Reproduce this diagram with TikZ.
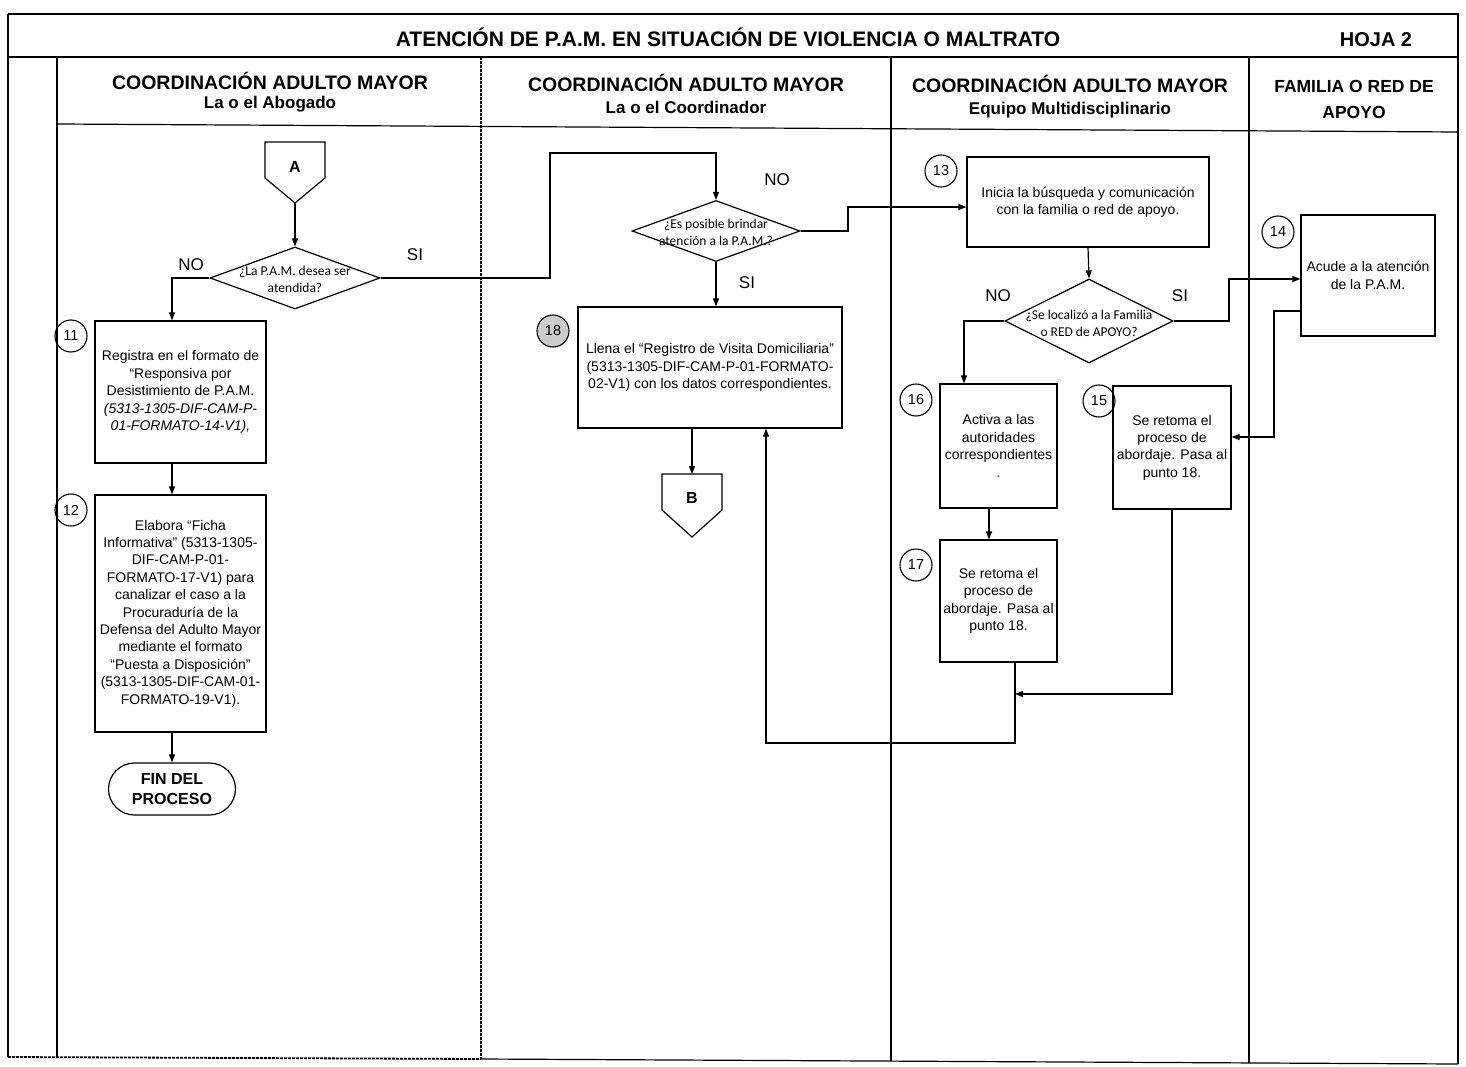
\documentclass[tikz,border=0pt]{standalone}
\usepackage{fontspec}
\setmainfont{Liberation Sans}
\newfontfamily\calib{Carlito}
\usetikzlibrary{arrows.meta,shapes.geometric,shapes.misc}
\tikzset{
  ln/.style={line width=1.2pt},
  arr/.style={ln,-{Triangle[length=8pt,width=6pt]}},
  box/.style={draw,ln,inner sep=0pt,align=center,font=\fontsize{14}{17.4}\selectfont},
  num/.style={draw,circle,line width=1.1pt,minimum size=32pt,inner sep=0pt,font=\fontsize{14.5}{14.5}\selectfont},
  dia/.style={draw,diamond,ln,inner sep=0pt},
  dtext/.style={align=center,font=\calib\fontsize{13.5}{17}\selectfont},
  lab/.style={font=\fontsize{17}{17}\selectfont},
  hdr/.style={font=\bfseries\fontsize{19.5}{19.5}\selectfont},
  hsub/.style={font=\bfseries\fontsize{17}{17}\selectfont},
  frame/.style={line width=1.2pt},
  dframe/.style={line width=1.8pt,dash pattern=on 3pt off 1pt},
  conn/.style={font=\bfseries\fontsize{16}{16}\selectfont},
}
\begin{document}
\begin{tikzpicture}[x=1pt,y=-1pt]
\useasboundingbox (0,0) rectangle (1466,1067);
% ---------- frame ----------
\draw[frame] (8,14) -- (1458,14) -- (1458,1064);
\draw[frame] (8,14) -- (8,1057);
\draw[frame] (8,57) -- (1458,57);
\draw[frame] (57,57) -- (57,1057);
\draw[frame] (57,124) -- (1458,132);
\draw[dframe] (481,57) -- (481,1059);
\draw[dframe] (8,1057) -- (481,1059);
\draw[frame] (481,1059) -- (1458,1064);
\draw[frame] (891,57) -- (891,1061);
\draw[frame] (1249,57) -- (1249,1063);
% ---------- titles ----------
\node[font=\bfseries\fontsize{21}{21}\selectfont] (title) at (728,37) {ATENCIÓN DE P.A.M. EN SITUACIÓN DE VIOLENCIA O MALTRATO};
\node[font=\bfseries\fontsize{20}{20}\selectfont] (hoja) at (1376,40) {HOJA 2};
\node[hdr] (h1) at (270,81) {COORDINACIÓN ADULTO MAYOR};
\node[hsub] (s1) at (270,104) {La o el Abogado};
\node[hdr] (h2) at (686,83) {COORDINACIÓN ADULTO MAYOR};
\node[hsub] (s2) at (686,107) {La o el Coordinador};
\node[hdr] (h3) at (1070,84) {COORDINACIÓN ADULTO MAYOR};
\node[hsub] (s3) at (1070,110) {Equipo Multidisciplinario};
\node[font=\bfseries\fontsize{17.5}{17.5}\selectfont] (h4) at (1354,86) {FAMILIA O RED DE};
\node[font=\bfseries\fontsize{17.5}{17.5}\selectfont] (s4) at (1354,112) {APOYO};
% ---------- connector A ----------
\draw[ln] (265,142) -- (325,142) -- (325,178) -- (295,203) -- (265,178) -- cycle;
\node[conn] (A) at (295,167) {A};
\coordinate (Abot) at (295,203);
% ---------- decision 1 ----------
\node[dia,minimum width=170pt,minimum height=62pt] (d1) at (295,278) {};
\node[dtext] (d1t) at (295,279) {¿La P.A.M. desea ser\\atendida?};
\node[lab] (no1) at (191,265) {NO};
\node[lab] (si1) at (415,255) {SI};
% ---------- box 11 ----------
\node[box,minimum width=171pt,minimum height=142pt] (b11) at (180.5,392)
 {Registra en el formato de\\“Responsiva por\\Desistimiento de P.A.M.\\\textit{(5313-1305-DIF-CAM-P-}\\\textit{01-FORMATO-14-V1),}};
\node[num] (n11) at (71,336) {11};
% ---------- box 12 ----------
\node[box,minimum width=171pt,minimum height=237pt] (b12) at (180.5,613.5)
 {Elabora “Ficha\\Informativa” (5313-1305-\\DIF-CAM-P-01-\\FORMATO-17-V1) para\\canalizar el caso a la\\Procuraduría de la\\Defensa del Adulto Mayor\\mediante el formato\\“Puesta a Disposición”\\(5313-1305-DIF-CAM-01-\\FORMATO-19-V1).};
\node[num] (n12) at (71,510) {12};
% ---------- fin ----------
\node[draw,ln,rounded rectangle,minimum width=127pt,minimum height=52pt,align=center,inner sep=0pt,
  font=\bfseries\fontsize{16}{20}\selectfont] (fin) at (172,789) {FIN DEL\\PROCESO};
% ---------- decision 2 ----------
\node[dia,minimum width=168pt,minimum height=61pt] (d2) at (716,231) {};
\node[dtext] (d2t) at (716,232) {¿Es posible brindar\\atención a la P.A.M.?};
\node[lab] (no2) at (777,180) {NO};
\node[lab] (si2) at (747,283) {SI};
% ---------- box 18 ----------
\node[box,minimum width=264pt,minimum height=121pt] (b18) at (710,367.5)
 {Llena el “Registro de Visita Domiciliaria”\\(5313-1305-DIF-CAM-P-01-FORMATO-\\02-V1) con los datos correspondientes.};
\node[num,fill=black!20] (n18) at (553,331) {18};
% ---------- connector B ----------
\draw[ln] (662,474) -- (722,474) -- (722,510) -- (692,537) -- (662,510) -- cycle;
\node[conn] (B) at (692,498) {B};
\coordinate (Btop) at (692,474);
% ---------- box 13 ----------
\node[box,minimum width=242pt,minimum height=90pt] (b13) at (1088,202)
 {Inicia la búsqueda y comunicación\\con la familia o red de apoyo.};
\node[num] (n13) at (941,171) {13};
% ---------- decision 3 ----------
\node[dia,minimum width=168pt,minimum height=84pt] (d3) at (1089,321) {};
\node[dtext] (d3t) at (1089,323) {¿Se localizó a la Familia\\o RED de APOYO?};
\node[lab] (no3) at (998,296) {NO};
\node[lab] (si3) at (1180,296) {SI};
% ---------- box 14 ----------
\node[box,minimum width=134pt,minimum height=121pt] (b14) at (1368,275.5)
 {Acude a la atención\\de la P.A.M.};
\node[num] (n14) at (1278,232) {14};
% ---------- box 15 ----------
\node[box,minimum width=118pt,minimum height=123pt] (b15) at (1172,447.5)
 {Se retoma el\\proceso de\\abordaje. Pasa al\\punto 18.};
\node[num] (n15) at (1099,401) {15};
% ---------- box 16 ----------
\node[box,minimum width=117pt,minimum height=124pt] (b16) at (998.5,446)
 {Activa a las\\autoridades\\correspondientes\\.};
\node[num] (n16) at (916,400) {16};
% ---------- box 17 ----------
\node[box,minimum width=117pt,minimum height=122pt] (b17) at (998.5,601)
 {Se retoma el\\proceso de\\abordaje. Pasa al\\punto 18.};
\node[num] (n17) at (916,565) {17};
\coordinate (J) at (1015,694);
% ---------- connectors ----------
\draw[arr] (Abot) -- (d1.north);
\draw[arr] (d1.west) -| ([xshift=-8.5pt]b11.north);
\draw[arr] ([xshift=-8.5pt]b11.south) -- ([xshift=-8.5pt]b12.north);
\draw[arr] ([xshift=-8.5pt]b12.south) -- (fin.north);
\draw[arr] (d1.east) -- (550,278) -- (550,153) -| (d2.north);
\draw[arr] (d2.east) -- (848,231) |- ([yshift=-5pt]b13.west);
\draw[arr] (d2.south) -- (d2.south |- b18.north);
\draw[arr] ([xshift=-18pt]b18.south) -- (Btop);
\draw[arr] (b13.south) -- (d3.north);
\draw[arr] (d3.west) -| ([xshift=-34.5pt]b16.north);
\draw[arr] (d3.east) -- (1229,321) |- ([yshift=-3.5pt]b14.west);
\draw[arr] ([yshift=-35.5pt]b14.west) -- (1274,311) |- ([yshift=10.5pt]b15.east);
\draw[arr] ([xshift=-9.5pt]b16.south) -- ([xshift=-9.5pt]b17.north);
\draw[arr] (b15.south) |- (J);
\draw[arr] ([xshift=16.5pt]b17.south) -- (1015,743) -| ([xshift=56pt]b18.south);
\end{tikzpicture}
\end{document}
